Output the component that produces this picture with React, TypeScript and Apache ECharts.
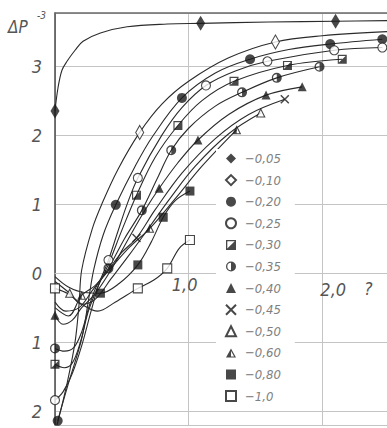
import React, { useEffect, useRef } from "react";
import * as echarts from "echarts";

// Axis extents (x: 0..2.48, y: -2.2..3.77)
const X_MIN = 0;
const X_MAX = 2.485;
const Y_MIN = -2.2;
const Y_MAX = 3.77;

// Plot area in pixels
const GRID = { left: 55, right: 0, top: 13, bottom: 3 };
const CHART_H = 428;

// Parameter values shown in the key
const paramLabels = [
  "−0,05", "−0,10", "−0,20", "−0,25", "−0,30", "−0,35",
  "−0,40", "−0,45", "−0,50", "−0,60", "−0,80", "−1,0",
];

// Curve points [x, ΔP] and the indices of points carrying a marker
const c005 = [[0, 2.35], [0.022, 2.68], [0.052, 2.94], [0.09, 3.07], [0.15, 3.23], [0.21, 3.36], [0.34, 3.48], [0.54, 3.57], [0.84, 3.61], [1.09, 3.62], [1.6, 3.64], [2.1, 3.65], [2.485, 3.66]];
const m005 = [0, 9, 11];

const c010 = [[0.015, -2.2], [0.09, -1.6], [0.15, -1.0], [0.18, -0.45], [0.2, 0.05], [0.28, 0.65], [0.35, 1.0], [0.47, 1.5], [0.634, 2.04], [0.8, 2.45], [1.0, 2.78], [1.3, 3.12], [1.65, 3.35], [2.0, 3.44], [2.485, 3.5]];
const m010 = [8, 12];

const c020 = [[0.02, -2.14], [0.1, -1.6], [0.2, -0.95], [0.25, -0.4], [0.29, 0.05], [0.36, 0.55], [0.455, 0.99], [0.6, 1.55], [0.73, 1.98], [0.95, 2.54], [1.2, 2.9], [1.46, 3.1], [1.75, 3.24], [2.06, 3.32], [2.45, 3.39]];
const m020 = [0, 6, 9, 11, 13, 14];

const c025 = [[0, -1.84], [0.06, -1.72], [0.13, -1.45], [0.2, -1.05], [0.27, -0.55], [0.33, -0.15], [0.4, 0.19], [0.47, 0.6], [0.54, 1.0], [0.62, 1.38], [0.8, 2.0], [0.95, 2.4], [1.13, 2.72], [1.35, 2.93], [1.59, 3.07], [2.09, 3.23], [2.45, 3.27]];
const m025 = [0, 6, 9, 12, 14, 15, 16];

const c030 = [[0, -1.32], [0.07, -1.37], [0.13, -1.3], [0.19, -1.0], [0.25, -0.55], [0.32, -0.2], [0.4, 0.13], [0.5, 0.62], [0.61, 1.13], [0.75, 1.68], [0.92, 2.14], [1.1, 2.5], [1.34, 2.78], [1.74, 3.01], [2.15, 3.1]];
const m030 = [0, 8, 10, 12, 13, 14];

const c035 = [[0, -1.09], [0.07, -1.13], [0.14, -1.08], [0.2, -0.85], [0.26, -0.45], [0.32, -0.15], [0.4, 0.07], [0.52, 0.5], [0.65, 0.91], [0.76, 1.35], [0.87, 1.78], [1.0, 2.1], [1.2, 2.42], [1.4, 2.62], [1.66, 2.83], [1.98, 2.99]];
const m035 = [0, 6, 8, 10, 13, 14, 15];

const c040 = [[0, -0.61], [0.06, -0.74], [0.13, -0.68], [0.2, -0.5], [0.3, -0.3], [0.42, 0.05], [0.55, 0.5], [0.67, 0.9], [0.78, 1.23], [0.92, 1.6], [1.07, 1.93], [1.3, 2.3], [1.58, 2.58], [1.85, 2.7]];
const m040 = [0, 8, 10, 12, 13];

const c045 = [[0, -0.42], [0.08, -0.55], [0.18, -0.5], [0.28, -0.25], [0.4, 0.05], [0.5, 0.3], [0.61, 0.51], [0.75, 0.92], [0.95, 1.45], [1.2, 1.95], [1.45, 2.3], [1.72, 2.52]];
const m045 = [6, 11];

const c050 = [[0, -0.12], [0.11, -0.29], [0.2, -0.45], [0.3, -0.38], [0.42, -0.08], [0.55, 0.25], [0.7, 0.65], [0.86, 1.08], [1.05, 1.55], [1.3, 2.02], [1.54, 2.32]];
const m050 = [1, 10];

const c060 = [[0, -0.5], [0.1, -0.62], [0.2, -0.32], [0.3, -0.18], [0.42, 0.08], [0.56, 0.38], [0.71, 0.65], [0.9, 1.08], [1.1, 1.55], [1.36, 2.08]];
const m060 = [2, 6, 9];

const c080 = [[0, -0.05], [0.1, -0.2], [0.22, -0.28], [0.34, -0.29], [0.48, -0.15], [0.62, 0.12], [0.72, 0.45], [0.81, 0.81], [0.9, 1.05], [1.01, 1.19]];
const m080 = [3, 5, 7, 9];

const c100 = [[0, -0.22], [0.1, -0.3], [0.2, -0.45], [0.32, -0.55], [0.45, -0.42], [0.62, -0.22], [0.74, -0.1], [0.84, 0.07], [0.93, 0.36], [1.01, 0.48]];
const m100 = [0, 5, 7, 9];

// Composite marker shapes
const HALF_SQUARE = "path://M0,0H10V10H0Z M1.3,1.3V8.7H8.7V1.3Z M8.7,1.3V8.7H1.3Z";
const HALF_CIRCLE = "path://M5,0A5,5,0,1,1,5,10A5,5,0,1,1,5,0Z M5,1.3A3.7,3.7,0,1,0,5,8.7A3.7,3.7,0,1,0,5,1.3Z M5,1.3A3.7,3.7,0,0,1,5,8.7Z";
const HALF_TRI = "path://M5,0L10,9H0Z M5,2.6L1.9,8H8.1Z M5,2.6L5,8H1.9Z";
const CROSS = "path://M0,0L10,10M10,0L0,10";

const INK = "#1a1a1a";
const filled = { color: INK, borderColor: INK, borderWidth: 0 };
const open = { color: "#fff", borderColor: INK, borderWidth: 1.1 };
const stroked = { color: "rgba(0,0,0,0)", borderColor: INK, borderWidth: 1.5 };

const markerKinds: Record<string, { symbol: string; size: number | number[]; style: object }> = {
  fdiamond: { symbol: "diamond", size: [9, 15], style: filled },
  odiamond: { symbol: "diamond", size: [8, 14], style: open },
  fcircle: { symbol: "circle", size: 10, style: filled },
  ocircle: { symbol: "circle", size: 9, style: open },
  hsquare: { symbol: HALF_SQUARE, size: 9, style: filled },
  hcircle: { symbol: HALF_CIRCLE, size: 10, style: filled },
  ftri: { symbol: "triangle", size: 9, style: filled },
  cross: { symbol: CROSS, size: 8, style: stroked },
  otri: { symbol: "triangle", size: 8, style: open },
  htri: { symbol: HALF_TRI, size: 9, style: filled },
  fsquare: { symbol: "rect", size: 9, style: filled },
  osquare: { symbol: "rect", size: 9, style: open },
};

const curveSet = [
  { pts: c005, marks: m005, kind: "fdiamond" },
  { pts: c010, marks: m010, kind: "odiamond" },
  { pts: c020, marks: m020, kind: "fcircle" },
  { pts: c025, marks: m025, kind: "ocircle" },
  { pts: c030, marks: m030, kind: "hsquare" },
  { pts: c035, marks: m035, kind: "hcircle" },
  { pts: c040, marks: m040, kind: "ftri" },
  { pts: c045, marks: m045, kind: "cross" },
  { pts: c050, marks: m050, kind: "otri" },
  { pts: c060, marks: m060, kind: "htri" },
  { pts: c080, marks: m080, kind: "fsquare" },
  { pts: c100, marks: m100, kind: "osquare" },
];

const LABEL_FONT = "'Liberation Sans Narrow', 'DejaVu Sans Condensed', 'Liberation Sans', sans-serif";
const LABEL_COLOR = "#555";

function buildOption() {
  const gridH = CHART_H - GRID.top - GRID.bottom;
  // distance from the plot's bottom edge up to the ΔP = 0 line
  const zeroFromBottom = ((0 - Y_MIN) / (Y_MAX - Y_MIN)) * gridH;

  const lines = curveSet.map((c, i) => ({
    type: "line",
    id: "curve" + i,
    data: c.pts,
    smooth: 0.35,
    symbol: "none",
    silent: true,
    z: 2,
    lineStyle: { color: "#2b2b2b", width: 1.1 },
  }));
  const markers = curveSet.map((c, i) => {
    const k = markerKinds[c.kind];
    return {
      type: "scatter",
      name: paramLabels[i],
      data: c.marks.map((j) => c.pts[j]),
      symbol: k.symbol,
      symbolSize: k.size,
      itemStyle: k.style,
      silent: true,
      z: 3,
    };
  });

  const labelText = { fontSize: 18, fontStyle: "italic", fontFamily: LABEL_FONT, color: LABEL_COLOR };

  return {
    animation: false,
    backgroundColor: "#fff",
    grid: { ...GRID, containLabel: false, outerBoundsMode: "none" },
    xAxis: [
      {
        type: "value",
        min: X_MIN,
        max: X_MAX,
        minInterval: 1,
        maxInterval: 1,
        position: "bottom",
        offset: -zeroFromBottom,
        axisLine: { show: true, onZero: false, lineStyle: { color: "#c4c4c4", width: 1 } },
        axisTick: { show: false },
        splitLine: { show: true, lineStyle: { color: "#c4c4c4", width: 1 } },
        axisLabel: {
          margin: 2,
          ...labelText,
          formatter: (v: number) => (v === 1 ? "{a|1,0}" : v === 2 ? "{b|2,0}" : ""),
          rich: {
            a: { ...labelText, padding: [0, 8, 0, 0] },
            b: { ...labelText, padding: [5, 0, 0, 22] },
          },
        },
      },
      {
        type: "value",
        position: "top",
        min: X_MIN,
        max: X_MAX,
        axisLine: { show: true, onZero: false, lineStyle: { color: "#6a6a6a", width: 1.5 } },
        axisTick: { show: false },
        axisLabel: { show: false },
        splitLine: { show: false },
      },
    ],
    yAxis: {
      type: "value",
      min: Y_MIN,
      max: Y_MAX,
      minInterval: 1,
      maxInterval: 1,
      axisLine: { show: true, onZero: false, lineStyle: { color: "#4a4a4a", width: 1.5 } },
      axisTick: { show: false },
      splitLine: { show: true, lineStyle: { color: "#c4c4c4", width: 1 } },
      axisLabel: {
        margin: 13,
        ...labelText,
        formatter: (v: number) => (Number.isInteger(v) ? String(Math.abs(v)) : ""),
      },
    },
    legend: {
      data: paramLabels,
      orient: "vertical",
      left: 216,
      top: 149,
      itemWidth: 10,
      itemHeight: 10,
      itemGap: 8.6,
      padding: [3, 14, 3, 9],
      backgroundColor: "#fff",
      selectedMode: false,
      textStyle: {
        fontSize: 13,
        fontStyle: "italic",
        fontFamily: LABEL_FONT,
        color: "#808080",
        padding: [0, 0, 0, 4],
      },
    },
    graphic: [
      {
        type: "text",
        left: 8,
        top: 18,
        style: { text: "ΔP", fontSize: 17, fontStyle: "italic", fontFamily: LABEL_FONT, fill: LABEL_COLOR },
      },
      {
        type: "text",
        left: 37,
        top: 10,
        style: { text: "-3", fontSize: 10, fontStyle: "italic", fontFamily: LABEL_FONT, fill: LABEL_COLOR },
      },
      {
        type: "text",
        left: 364,
        top: 279,
        style: { text: "?", fontSize: 18, fontStyle: "italic", fontFamily: LABEL_FONT, fill: LABEL_COLOR },
      },
    ],
    series: [...lines, ...markers],
  };
}

export default function App() {
  const ref = useRef<HTMLDivElement>(null);
  useEffect(() => {
    if (!ref.current) return;
    const chart = echarts.init(ref.current, null, { renderer: "svg" });
    chart.setOption(buildOption() as any);
    return () => chart.dispose();
  }, []);
  return (
    <div
      ref={ref}
      style={{ position: "fixed", left: 0, top: 0, width: 387, height: 428, background: "#fff" }}
    />
  );
}
